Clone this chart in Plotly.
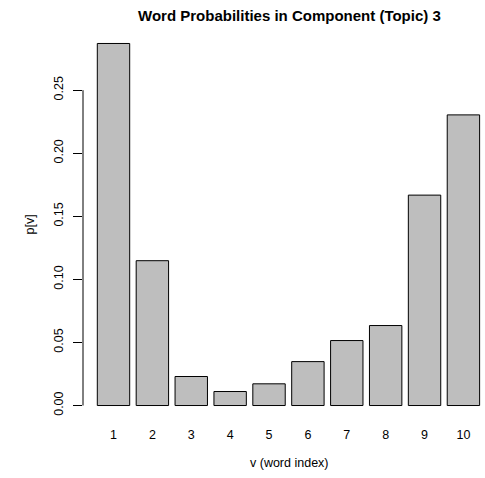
import plotly.graph_objects as go

# Data
word_index = [1, 2, 3, 4, 5, 6, 7, 8, 9, 10]
tick_labels = [str(v) for v in word_index]
probabilities = [0.287, 0.1148, 0.023, 0.0111, 0.0172, 0.0348, 0.0515, 0.0634, 0.1668, 0.2304]
y_ticks = [0.00, 0.05, 0.10, 0.15, 0.20, 0.25]
y_tick_labels = ["0.00", "0.05", "0.10", "0.15", "0.20", "0.25"]

title = "Word Probabilities in Component (Topic) 3"
x_title = "v (word index)"
y_title = "p[v]"

# R barplot geometry: width 1, space 0.2
centers = [1.2 * i - 0.5 for i in word_index]

FONT = "Liberation Sans, Arial, Helvetica, sans-serif"

fig = go.Figure()
fig.add_trace(go.Bar(
    x=centers,
    y=probabilities,
    width=1.0,
    marker=dict(color="#BEBEBE", line=dict(color="black", width=1)),
    hoverinfo="skip",
))

W, H = 485, 478
ml, mr, mt, mb = 83, 0, 29, 58
plot_w = W - ml - mr
plot_h = H - mt - mb

px_per_unit_x = 32.4
x0 = 0.2 - (97.3 - ml) / px_per_unit_x
x1 = x0 + plot_w / px_per_unit_x

ymax = max(probabilities)
y0 = -0.04 * ymax
y1 = 1.04 * ymax

fig.update_layout(
    width=W, height=H,
    margin=dict(l=ml, r=mr, t=mt, b=mb, pad=0),
    plot_bgcolor="white", paper_bgcolor="white",
    showlegend=False,
    font=dict(family=FONT, size=12, color="black"),
    xaxis=dict(
        range=[x0, x1],
        tickvals=centers, ticktext=tick_labels,
        ticks="", showline=False, showgrid=False, zeroline=False,
        ticklabelstandoff=5,
        tickfont=dict(size=12.5),
    ),
    yaxis=dict(
        range=[y0, y1],
        tickvals=y_ticks, ticktext=y_tick_labels,
        ticks="outside", ticklen=9, tickcolor="black", tickwidth=1,
        tickangle=-90,
        showline=False, showgrid=False, zeroline=False,
        ticklabelstandoff=5,
        tickfont=dict(size=12.5),
    ),
    shapes=[dict(
        type="line", xref="paper", yref="y",
        x0=0, x1=0, y0=min(y_ticks), y1=max(y_ticks),
        line=dict(color="black", width=1),
    )],
    annotations=[
        dict(text="<b>" + title + "</b>", xref="paper", yref="paper",
             x=(289 - ml) / plot_w, y=1, yshift=(mt - 15),
             xanchor="center", yanchor="middle", showarrow=False,
             font=dict(size=15, family=FONT)),
        dict(text=x_title, xref="paper", yref="paper",
             x=(289 - ml) / plot_w, y=0, yshift=-43,
             xanchor="center", yanchor="middle", showarrow=False,
             font=dict(size=12.5, family=FONT)),
        dict(text=y_title, xref="paper", yref="paper",
             x=0, xshift=(29 - ml), y=0.5,
             xanchor="center", yanchor="middle", showarrow=False,
             textangle=-90,
             font=dict(size=12.5, family=FONT)),
    ],
)

fig.write_html("out.html")
